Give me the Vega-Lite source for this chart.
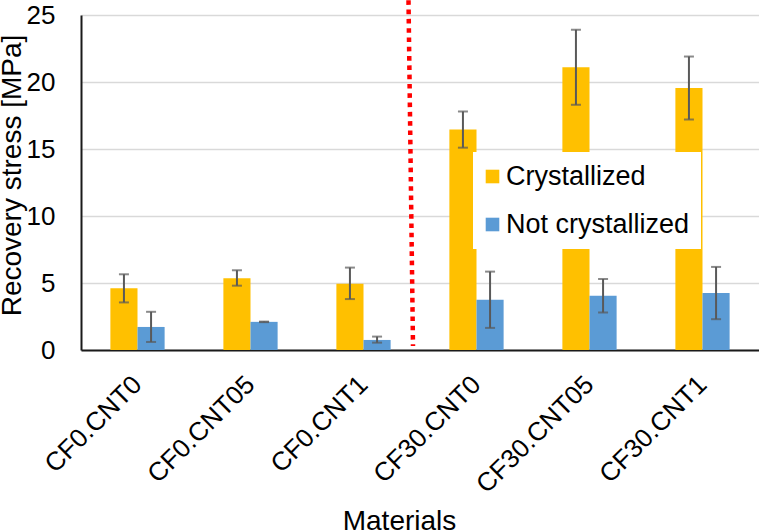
{
  "$schema": "https://vega.github.io/schema/vega-lite/v6.json",
  "width": 678,
  "height": 335,
  "autosize": {"type": "none"},
  "padding": {"left": 81, "top": 15, "right": 0, "bottom": 182},
  "background": "white",
  "config": {
    "view": {"stroke": null},
    "font": "Liberation Sans",
    "axis": {"labelFont": "Liberation Sans", "titleFont": "Liberation Sans", "labelColor": "black", "titleColor": "black", "titleFontWeight": "normal"},
    "legend": {
      "orient": "none", "legendX": 392, "legendY": 137,
      "fillColor": "white", "padding": 11,
      "symbolType": "square", "symbolSize": 185, "symbolStrokeWidth": 0, "symbolOffset": -5,
      "labelFont": "Liberation Sans", "labelFontSize": 27, "labelColor": "black",
      "labelOffset": 0, "rowPadding": 20, "labelLimit": 0
    }
  },
  "data": {"values": [
    {"material": "CF0.CNT0", "series": "Crystallized", "value": 4.6, "lo": 3.55, "hi": 5.65},
    {"material": "CF0.CNT0", "series": "Not crystallized", "value": 1.72, "lo": 0.6, "hi": 2.85},
    {"material": "CF0.CNT05", "series": "Crystallized", "value": 5.35, "lo": 4.8, "hi": 5.95},
    {"material": "CF0.CNT05", "series": "Not crystallized", "value": 2.1, "lo": 2.08, "hi": 2.12},
    {"material": "CF0.CNT1", "series": "Crystallized", "value": 4.95, "lo": 3.8, "hi": 6.15},
    {"material": "CF0.CNT1", "series": "Not crystallized", "value": 0.75, "lo": 0.55, "hi": 1.0},
    {"material": "CF30.CNT0", "series": "Crystallized", "value": 16.45, "lo": 15.1, "hi": 17.8},
    {"material": "CF30.CNT0", "series": "Not crystallized", "value": 3.75, "lo": 1.65, "hi": 5.85},
    {"material": "CF30.CNT05", "series": "Crystallized", "value": 21.1, "lo": 18.3, "hi": 23.9},
    {"material": "CF30.CNT05", "series": "Not crystallized", "value": 4.05, "lo": 2.8, "hi": 5.3},
    {"material": "CF30.CNT1", "series": "Crystallized", "value": 19.55, "lo": 17.2, "hi": 21.9},
    {"material": "CF30.CNT1", "series": "Not crystallized", "value": 4.25, "lo": 2.3, "hi": 6.2}
  ]},
  "encoding": {
    "x": {
      "field": "material", "type": "nominal", "sort": null,
      "scale": {"paddingInner": 0.52, "paddingOuter": 0.26},
      "axis": {
        "title": "Materials", "titleFontSize": 28, "titleX": 318, "titleY": 157, "titleBaseline": "top",
        "labelAngle": -45, "labelFontSize": 26, "labelAlign": "right", "labelBaseline": "middle",
        "labelPadding": 30, "ticks": false, "tickSize": 0,
        "domainColor": "#1a1a1a", "domainWidth": 2, "grid": false
      }
    },
    "xOffset": {"field": "series", "type": "nominal", "scale": {"paddingInner": 0, "paddingOuter": 0}}
  },
  "layer": [
    {
      "mark": {"type": "bar"},
      "encoding": {
        "y": {
          "field": "value", "type": "quantitative",
          "scale": {"domain": [0, 25], "nice": false},
          "axis": {
            "title": "Recovery stress [MPa]", "titleFontSize": 28, "titleX": -55, "titleY": 160,
            "values": [0, 5, 10, 15, 20, 25], "labelFontSize": 26, "labelPadding": 26,
            "ticks": false, "tickSize": 0, "domainColor": "#1a1a1a", "domainWidth": 2,
            "gridColor": "#d9d9d9", "gridWidth": 1.5
          }
        },
        "color": {
          "field": "series", "type": "nominal", "title": null,
          "scale": {"domain": ["Crystallized", "Not crystallized"], "range": ["#ffc000", "#5b9bd5"]}
        }
      }
    },
    {
      "mark": {"type": "rule", "color": "#595959", "strokeWidth": 2},
      "encoding": {
        "y": {"field": "lo", "type": "quantitative"},
        "y2": {"field": "hi"}
      }
    },
    {
      "mark": {"type": "tick", "color": "#595959", "thickness": 2, "size": 10},
      "encoding": {"y": {"field": "lo", "type": "quantitative"}}
    },
    {
      "mark": {"type": "tick", "color": "#595959", "thickness": 2, "size": 10},
      "encoding": {"y": {"field": "hi", "type": "quantitative"}}
    },
    {
      "data": {"values": [{"material": "CF30.CNT0"}]},
      "mark": {"type": "rule", "color": "#ff0000", "strokeWidth": 4.5, "strokeDash": [4.6, 4.7], "xOffset": -68, "x2Offset": -63.5},
      "encoding": {
        "xOffset": null,
        "x": {"field": "material", "type": "nominal", "sort": null},
        "x2": {"field": "material"},
        "y": {"datum": 26.1},
        "y2": {"datum": 0.3}
      }
    }
  ]
}
